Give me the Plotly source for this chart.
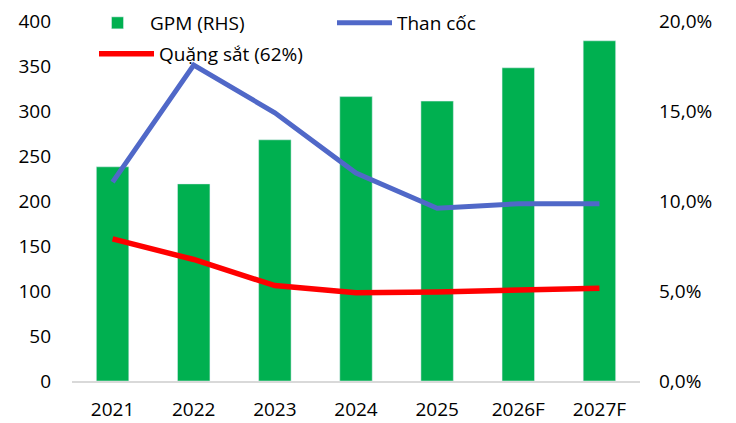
import plotly.graph_objects as go

years = ["2021", "2022", "2023", "2024", "2025", "2026F", "2027F"]
gpm = [0.119, 0.1095, 0.134, 0.158, 0.1555, 0.174, 0.189]
than_coc = [221, 351, 298, 231, 192, 197, 197]
quang_sat = [158, 135, 106, 98, 99, 101, 103]

# page has an 8px body offset; layout values below are in figure pixels
OFF = 8
W, H = 736, 423
PL, PR, PT, PB = 72, 640, 21, 381          # plot box in page pixels
L, T = PL - OFF, PT - OFF
R, B = W - (PR - OFF), H - (PB - OFF)
FONT = "Open Sans"
IW = 55

fig = go.Figure()
fig.add_trace(go.Bar(
    x=years, y=gpm, name="GPM (RHS)", marker=dict(color="#00B050"),
    width=0.4, yaxis="y", legend="legend",
))
fig.add_trace(go.Scatter(
    x=years, y=than_coc, name="Than cốc", mode="lines",
    line=dict(color="#5068C8", width=5), yaxis="y2", legend="legend2",
))
fig.add_trace(go.Scatter(
    x=years, y=quang_sat, name="Quặng sắt (62%)", mode="lines",
    line=dict(color="#FF0000", width=5.5), yaxis="y2", legend="legend3",
))

def leg(text_x, ypx):
    xpx = text_x - (IW + 10)
    return dict(
        xref="container", yref="container",
        x=(xpx - OFF) / W, y=1 - (ypx - OFF) / H,
        xanchor="left", yanchor="middle", bgcolor="rgba(0,0,0,0)",
        itemwidth=IW,
        font=dict(family=FONT, size=19, color="#000"),
    )

fig.update_layout(
    width=W, height=H,
    margin=dict(l=L, r=R, t=T, b=B, autoexpand=False),
    paper_bgcolor="white", plot_bgcolor="white",
    separators=",.",
    font=dict(family=FONT, size=19, color="#000"),
    xaxis=dict(
        type="category", showline=True, linecolor="#D9D9D9", linewidth=2,
        ticks="", showgrid=False, ticklabelstandoff=10, tickangle=0,
    ),
    yaxis=dict(
        side="right", range=[0, 0.2], dtick=0.05, tickformat=".1%",
        showgrid=False, zeroline=False, ticks="", ticklabelstandoff=18,
        ticklabeloverflow="allow",
    ),
    yaxis2=dict(
        side="left", overlaying="y", range=[0, 400], dtick=50,
        showgrid=False, zeroline=False, ticks="", ticklabelstandoff=20,
        ticklabeloverflow="allow",
    ),
    legend=leg(150, 23),
    legend2=leg(397, 23),
    legend3=leg(159, 54),
    bargap=0.6,
    showlegend=True,
)

fig.write_html("out.html")
